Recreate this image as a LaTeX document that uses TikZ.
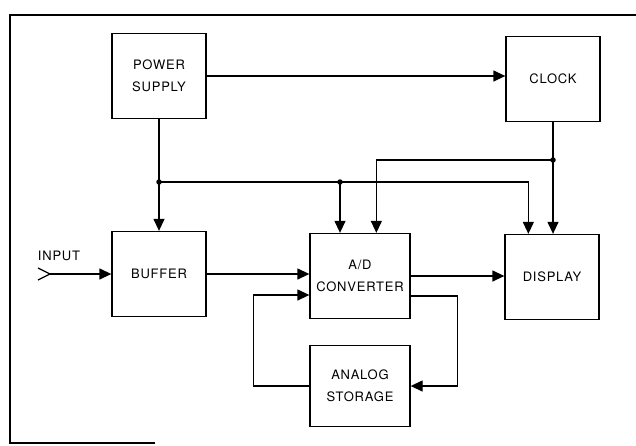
\documentclass[tikz,border=0pt]{standalone}
\usepackage{fontspec}
\setmainfont{TeX Gyre Heros}[LetterSpace=6]
\usetikzlibrary{calc, positioning, arrows.meta}

\begin{document}
\begin{tikzpicture}[>={Triangle[length=12pt, width=11pt]}, x=1pt, y=-1pt, line width=1.3pt,
  block/.style={draw, rectangle, minimum width=94pt, minimum height=85pt, align=center,
    font=\fontsize{13}{22}\selectfont},
  dot/.style={circle, fill, inner sep=0pt, minimum size=5.5pt}]
  \useasboundingbox (0,0) rectangle (636,445);

  % Frame
  \draw[line width=2.4pt] (155,443) -- (10,443) -- (10,15) -- (636,15);

  % Blocks
  \node[block] (power) at (159,76) {POWER\\SUPPLY};
  \node[block] (clock) at (553,79) {CLOCK};
  \node[block] (buffer) at (159,274) {BUFFER};
  \node[block, minimum width=100pt] (adc) at (360,276) {A/D\\CONVERTER};
  \node[block] (display) at (552,277) {DISPLAY};
  \node[block, minimum width=100pt, minimum height=81pt] (storage) at (360,386) {ANALOG\\STORAGE};

  % Input
  \node[font=\fontsize{13}{22}\selectfont] (input) at (59,256) {INPUT};
  \coordinate (intip) at (50,274);
  \draw ($(intip)+(-12,-6)$) -- (intip) -- ($(intip)+(-12,6)$);
  \draw[->] (intip) -- (intip -| buffer.west);

  % Junctions
  \node[dot] (j1) at (159,182) {};
  \node[dot] (j2) at (340,182) {};
  \node[dot] (j3) at (553,160) {};
  \coordinate (pd) at ($(display.north west)+(24,0)$);
  \coordinate (pa) at ($(adc.north west)+(67,0)$);

  % Power distribution
  \draw[->] (power.east) -- (power.east -| clock.west);
  \draw[->] (power) -- (buffer);
  \draw[->] (j1.center) -| (pd);
  \draw[->] (j2.center) -- (j2 |- adc.north);

  % Clock distribution
  \draw[->] (clock.south) -- (clock.south |- display.north);
  \draw[->] (j3.center) -| (pa);

  % Data path
  \draw[->] (buffer.east) -- (buffer.east -| adc.west);
  \draw[->] (adc.east) -- (adc.east -| display.west);

  % Storage loop
  \coordinate (adcout) at ($(adc.east)+(0,20)$);
  \coordinate (adcin) at ($(adc.west)+(0,19)$);
  \draw[->] (adcout) -- ++(47,0) |- (storage.east);
  \draw[->] (storage.west) -- ++(-56,0) |- (adcin);

\end{tikzpicture}
\end{document}
